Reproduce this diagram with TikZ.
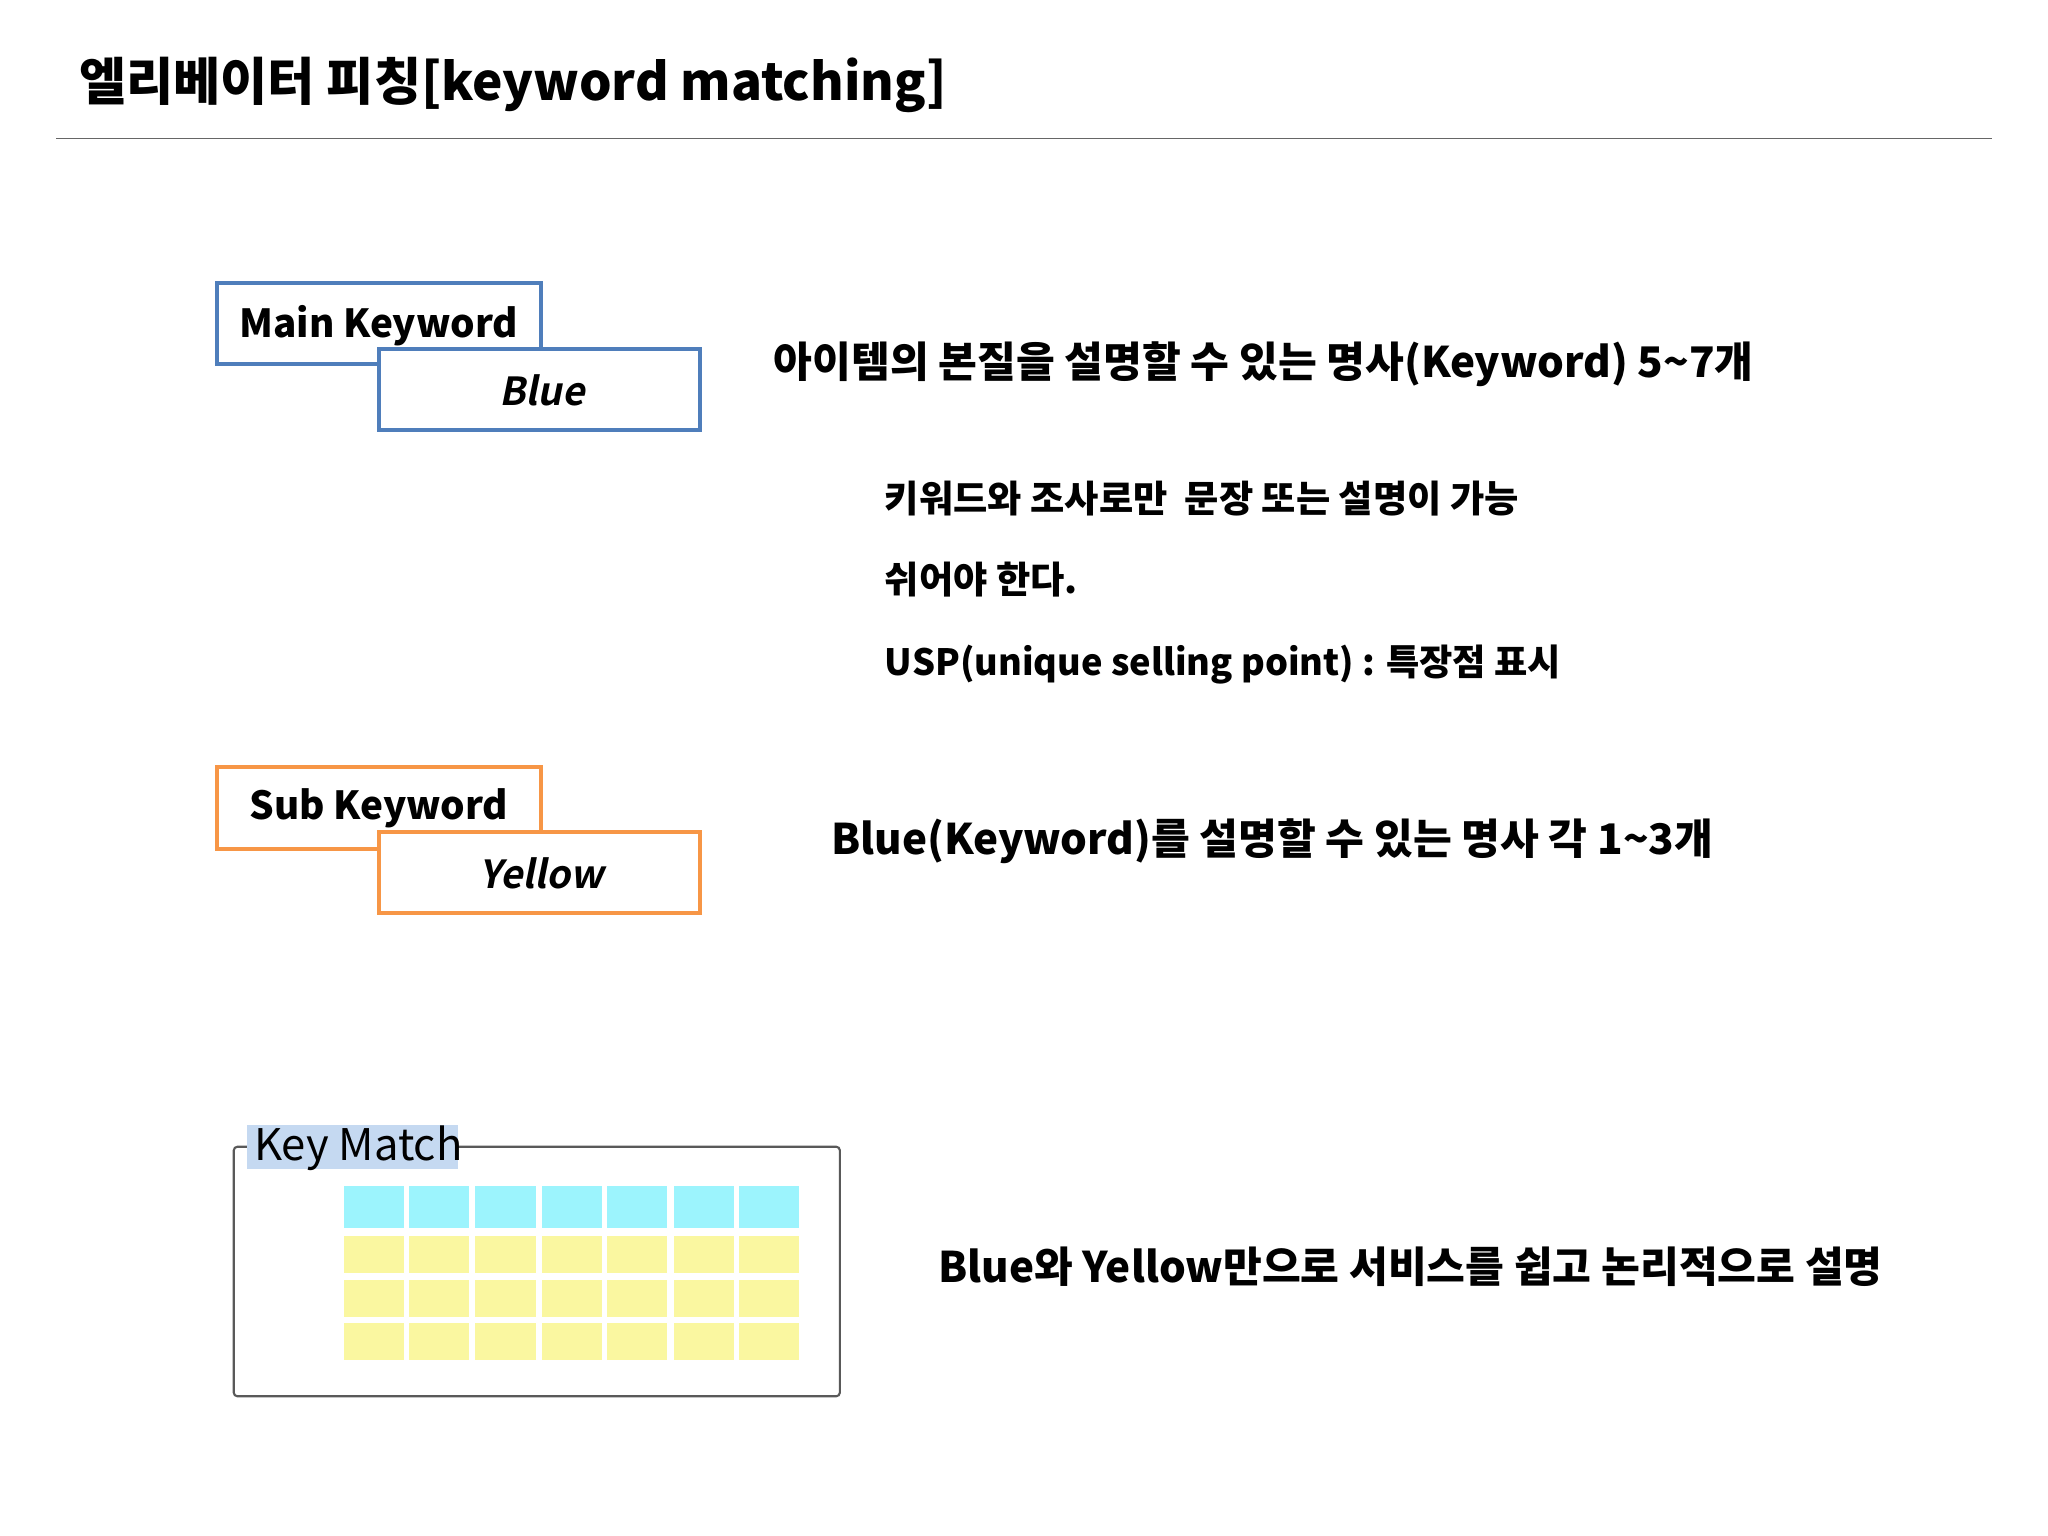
\documentclass[tikz,border=0pt]{standalone}
\usepackage{fontspec}
\setmainfont{Noto Sans CJK KR}[ItalicFont={Noto Sans CJK KR},ItalicFeatures={FakeSlant=0.2},BoldItalicFont={Noto Sans CJK KR Bold},BoldItalicFeatures={FakeSlant=0.2}]
\begin{document}
\begin{tikzpicture}[x=0.01306cm,y=-0.01306cm,
  kbox/.style={line width=1.1pt, fill=white},
  txt/.style={anchor=west, inner sep=0, font=\bfseries\fontsize{12}{14}\selectfont}]
\useasboundingbox (0,0) rectangle (1568,1176);
\definecolor{kb}{HTML}{4F7EBB}\definecolor{ko}{HTML}{F79646}
\definecolor{cy}{HTML}{9CF4FD}\definecolor{ye}{HTML}{FAF7A0}
\definecolor{hl}{HTML}{C5D9F1}
\node[anchor=west,inner sep=0,font=\bfseries\fontsize{14.6}{17}\selectfont] (title) at (60,65) {엘리베이터 피칭[keyword matching]};
\coordinate (l1) at (43,106); \coordinate (l2) at (1525,106);
\draw[gray!80!black, line width=0.5pt] (l1) -- (l2);
% main
\draw[kbox,draw=kb] (166,217) rectangle (414,279);
\draw[kbox,draw=kb] (290,267) rectangle (536,329);
\node[font=\fontsize{11}{13}\selectfont\bfseries] (mk) at (290,249) {Main Keyword};
\node[font=\fontsize{11}{13}\selectfont\bfseries\itshape] (bl) at (415,299) {Blue};
\node[txt] (t1) at (592,279) {아이템의 본질을 설명할 수 있는 명사(Keyword) 5\textasciitilde7개};
\node[txt,font=\bfseries\fontsize{10.6}{13}\selectfont] (t2) at (677,382) {키워드와 조사로만\ \ 문장 또는 설명이 가능};
\node[txt,font=\bfseries\fontsize{10.6}{13}\selectfont] (t3) at (677,444) {쉬어야 한다.};
\node[txt,font=\bfseries\fontsize{10.3}{13}\selectfont] (t4) at (677,509) {USP(unique selling point) : 특장점 표시};
% sub
\draw[kbox,draw=ko] (166,587) rectangle (414,650);
\draw[kbox,draw=ko] (290,637) rectangle (536,699);
\node[font=\fontsize{11}{13}\selectfont\bfseries] (sk) at (290,619) {Sub Keyword};
\node[font=\fontsize{11}{13}\selectfont\bfseries\itshape] (ye) at (415,669) {Yellow};
\node[txt] (t5) at (636,644) {Blue(Keyword)를 설명할 수 있는 명사 각 1\textasciitilde3개};
% key match
\draw[gray!70!black, line width=0.6pt, rounded corners=1pt] (179,878) rectangle (643,1069);
\fill[hl] (189,861) rectangle (351,895);
\node[anchor=west,inner sep=0,font=\fontsize{12.4}{15}\selectfont] (km) at (194,879) {Key Match};
\foreach \x in {263,313,364,415,465,516,566}{
  \fill[cy] (\x,908) rectangle ++(46,32);
  \fill[ye] (\x,946) rectangle ++(46,29);
  \fill[ye] (\x,980) rectangle ++(46,28);
  \fill[ye] (\x,1013) rectangle ++(46,28);
}
\node[txt] (t6) at (718,970) {Blue와 Yellow만으로 서비스를 쉽고 논리적으로 설명};
\end{tikzpicture}
\end{document}
